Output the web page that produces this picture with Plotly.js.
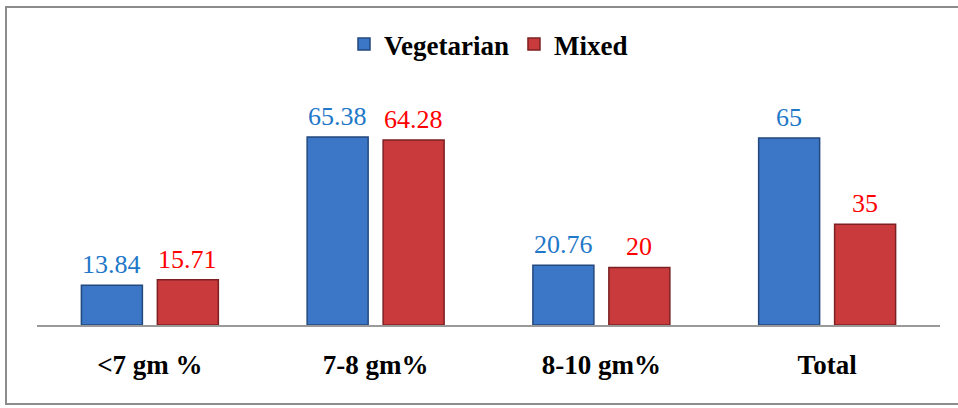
<!DOCTYPE html>
<html>
<head>
<meta charset="utf-8">
<script src="https://cdn.plot.ly/plotly-3.0.1.min.js"></script>
<style>
  html, body { margin: 0; padding: 0; background: #fff; }
  #wrap { position: relative; width: 958px; height: 408px; overflow: hidden; }
  #frame { position: absolute; left: 5px; top: 6px; width: 960px; height: 399px;
           border: 2px solid #8c8c8c; box-sizing: border-box; pointer-events: none; }
  #chart { position: absolute; left: 0; top: 0; width: 958px; height: 408px; }
</style>
</head>
<body>
<div id="wrap">
  <div id="chart"></div>
  <div id="frame"></div>
</div>
<script>
const categories = ["<7 gm %", "7-8 gm%", "8-10 gm%", "Total"];
const vegetarian = [13.84, 65.38, 20.76, 65];
const mixed = [15.71, 64.28, 20, 35];
const seriesNames = ["Vegetarian", "Mixed"];
const labelColors = ["#1F78C8", "#FF0000"];

const serif = "Liberation Serif";

const traces = [
  {
    type: "bar", name: seriesNames[0], x: categories, y: vegetarian,
    marker: { color: "#3B77C6", line: { color: "#23487E", width: 1.5 } }
  },
  {
    type: "bar", name: seriesNames[1], x: categories, y: mixed,
    marker: { color: "#C93A3C", line: { color: "#7C2022", width: 1.5 } }
  }
];

const annotations = [];
[vegetarian, mixed].forEach((vals, si) => {
  vals.forEach((v, i) => {
    annotations.push({
      x: categories[i], y: v, xref: "x", yref: "y",
      text: String(v), showarrow: false, yanchor: "bottom",
      xshift: si === 0 ? -38 : 38, yshift: 4,
      font: { family: serif, size: 26, color: labelColors[si] }
    });
  });
});

const layout = {
  width: 958, height: 408,
  margin: { l: 37, r: 18, t: 50, b: 83, pad: 0 },
  paper_bgcolor: "rgba(0,0,0,0)", plot_bgcolor: "rgba(0,0,0,0)",
  barmode: "group", bargap: 0.327, bargroupgap: 0.197,
  showlegend: true,
  legend: {
    orientation: "h", x: 0.5, xanchor: "center", y: 1.02, yanchor: "middle",
    font: { family: serif, size: 27, color: "#000", weight: "bold" }, itemwidth: 30,
    bgcolor: "rgba(0,0,0,0)"
  },
  xaxis: {
    type: "category", showgrid: false, zeroline: false,
    showline: true, linecolor: "#9a9a9a", linewidth: 2,
    ticks: "", ticklabelstandoff: 15,
    tickfont: { family: serif, size: 27, color: "#000", weight: "bold" }
  },
  yaxis: {
    range: [0, 95.6], showgrid: false, zeroline: false, showline: false,
    showticklabels: false, ticks: ""
  },
  annotations: annotations,
  font: { family: serif }
};

Plotly.newPlot("chart", traces, layout, { displayModeBar: false, staticPlot: true });
</script>
</body>
</html>
